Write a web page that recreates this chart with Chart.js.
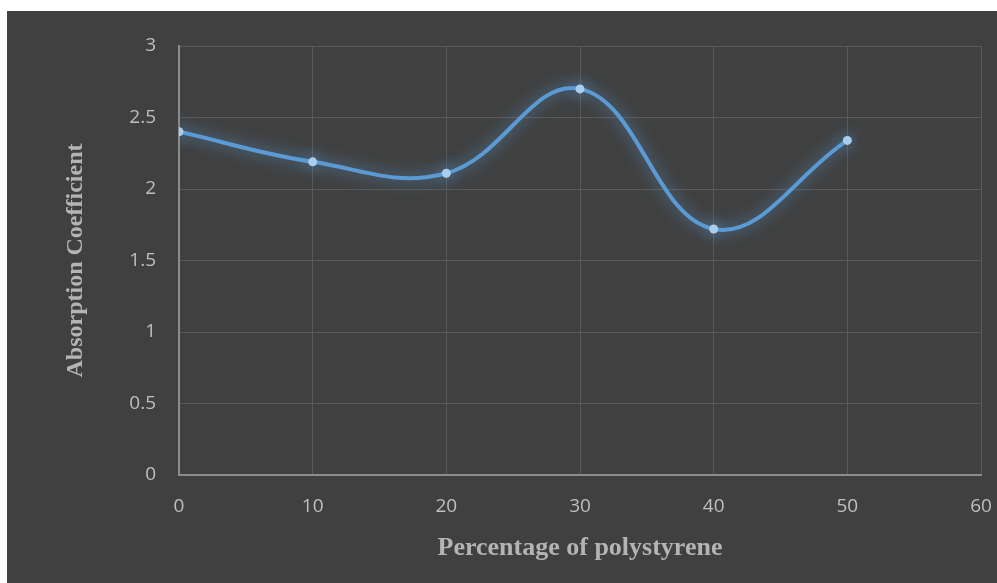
<!DOCTYPE html>
<html>
<head>
<meta charset="utf-8">
<script src="https://cdn.jsdelivr.net/npm/chart.js@4.4.1/dist/chart.umd.min.js"></script>
<style>
  html, body { margin: 0; padding: 0; background: #ffffff; overflow: hidden; }
  #box { position: absolute; left: 7px; top: 11px; width: 990px; height: 572px; background: #404040; }
</style>
</head>
<body>
<div id="box"><canvas id="myChart"></canvas></div>
<script>
// data
const percentages = [0, 10, 20, 30, 40, 50];
const absorption = [2.40, 2.19, 2.11, 2.70, 1.72, 2.34];
const xTicks = [0, 10, 20, 30, 40, 50, 60];
const yTicks = [0, 0.5, 1, 1.5, 2, 2.5, 3];

const tickColor = "#bfbfbf";
const titleColor = "#b4b4b4";

// soft blue glow around the line and markers
const glowPlugin = {
  id: "glow",
  beforeDatasetDraw(chart) {
    const ctx = chart.ctx;
    ctx.save();
    ctx.shadowColor = "rgba(91, 155, 213, 0.9)";
    ctx.shadowBlur = 16;
  },
  afterDatasetDraw(chart) {
    chart.ctx.restore();
  }
};

const data = {
  datasets: [
    {
      label: "Absorption Coefficient",
      data: percentages.map((p, i) => ({ x: p, y: absorption[i] })),
      borderColor: "#5b9bd5",
      borderWidth: 4,
      tension: 0.4,
      pointRadius: 4.5,
      pointBackgroundColor: "#a9cdee",
      pointBorderWidth: 0,
      fill: false
    }
  ]
};

const config = {
  type: "line",
  data: data,
  plugins: [glowPlugin],
  options: {
    responsive: true,
    maintainAspectRatio: false,
    animation: false,
    layout: { padding: { top: 35, right: 16, left: 0, bottom: 0 } },
    plugins: {
      legend: { display: false },
      tooltip: { enabled: false }
    },
    scales: {
      x: {
        type: "linear",
        min: 0,
        max: 60,
        afterBuildTicks(scale) { scale.ticks = xTicks.map(v => ({ value: v })); },
        afterFit(scale) {
          scale.height = 108;
          scale.paddingRight = 0;
          scale.paddingLeft = 0;
        },
        grid: { color: "#595959", lineWidth: 1, drawTicks: false },
        border: { color: "#8c8c8c", width: 2 },
        ticks: {
          color: tickColor,
          padding: 20,
          maxRotation: 0,
          callback: v => String(v),
          font: { family: "'Open Sans', sans-serif", size: 19 }
        },
        title: {
          display: true,
          text: "Percentage of polystyrene",
          color: titleColor,
          padding: { top: 0, bottom: 19 },
          font: { family: "'Liberation Serif', 'Times New Roman', serif", size: 26, weight: "bold", lineHeight: 1.2 }
        }
      },
      y: {
        type: "linear",
        min: 0,
        max: 3,
        afterBuildTicks(scale) { scale.ticks = yTicks.map(v => ({ value: v })); },
        afterFit(scale) { scale.width = 172; },
        grid: { color: "#595959", lineWidth: 1, drawTicks: false },
        border: { color: "#8c8c8c", width: 2 },
        ticks: {
          color: tickColor,
          padding: 23,
          callback: v => String(v),
          font: { family: "'Open Sans', sans-serif", size: 19 }
        },
        title: {
          display: true,
          text: "Absorption Coefficient",
          color: titleColor,
          padding: { top: 54, bottom: 0 },
          font: { family: "'Liberation Serif', 'Times New Roman', serif", size: 24, weight: "bold", lineHeight: 1.2 }
        }
      }
    }
  }
};

const myChart = new Chart(document.getElementById("myChart"), config);
</script>
</body>
</html>
